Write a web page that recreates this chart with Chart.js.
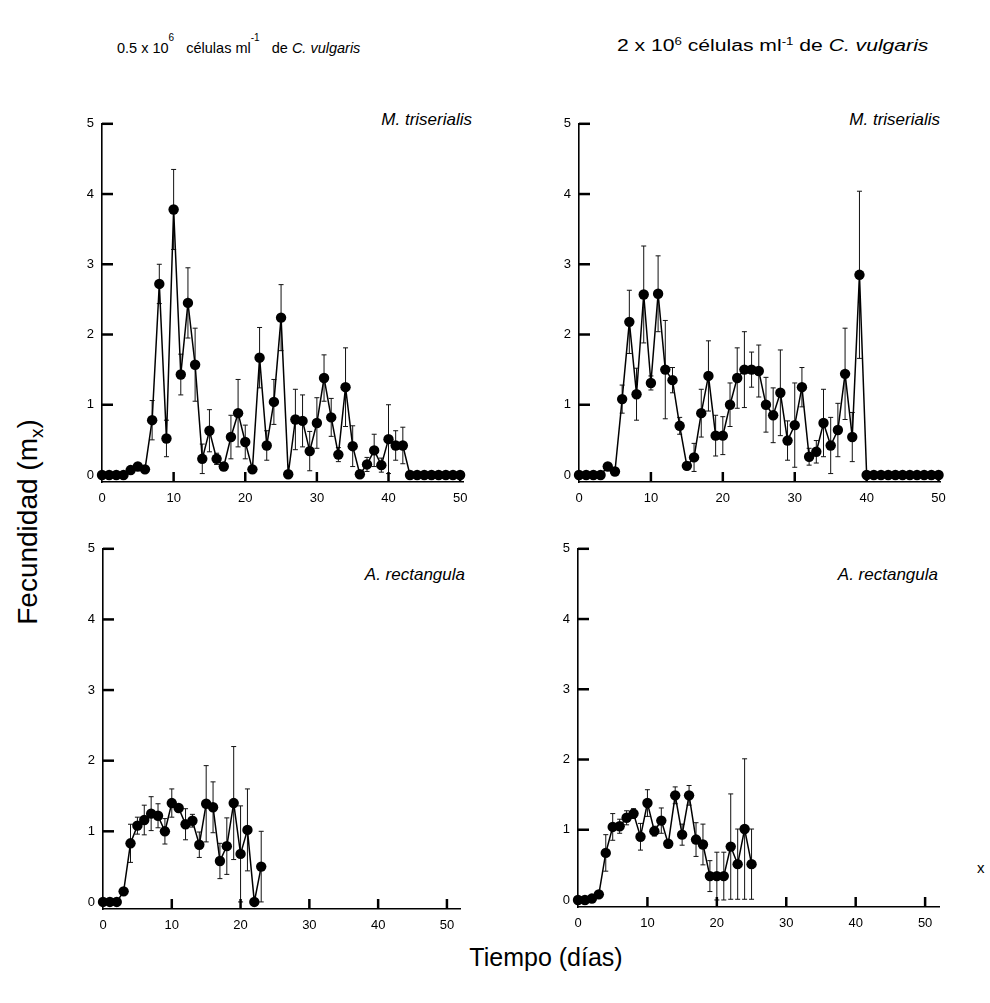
<!DOCTYPE html>
<html>
<head>
<meta charset="utf-8">
<script src="https://cdn.jsdelivr.net/npm/chart.js@4.4.1/dist/chart.umd.min.js"></script>
<style>
  body { margin:0; background:#fff; width:990px; height:1003px; position:relative; overflow:hidden;
         font-family:'Liberation Sans', Arial, sans-serif; color:#000; }
  canvas { position:absolute; }
  .txt { position:absolute; white-space:nowrap; line-height:1; }
  .head { font-size:14.5px; top:39px; }
  .head sup { font-size:10px; }
  .hi { position:relative; top:-6px; }
  .wide { font-size:16px; top:37px; transform:scaleX(1.32); transform-origin:left center; }
  .sp { font-size:17px; font-style:italic; text-align:right; }
</style>
</head>
<body>

<div class="txt head" style="left:117px;">0.5 x 10<sup class="hi">6</sup>&nbsp;&nbsp; células ml<sup class="hi">-1</sup>&nbsp;&nbsp; de <i>C. vulgaris</i></div>
<div class="txt head wide" style="left:617px;">2 x 10<sup>6</sup> células ml<sup>-1</sup> de <i>C. vulgaris</i></div>

<div class="txt sp" style="right:518px; top:111px;">M. triserialis</div>
<div class="txt sp" style="right:50px; top:111px;">M. triserialis</div>
<div class="txt sp" style="right:525px; top:566px;">A. rectangula</div>
<div class="txt sp" style="right:52px; top:566px;">A. rectangula</div>

<div class="txt" style="left:30px; top:522px; font-size:28px; transform:translate(-50%,-50%) rotate(-90deg);">Fecundidad (m<sub style="font-size:19px;">x</sub>)</div>
<div class="txt" style="left:546px; top:957px; font-size:25px; transform:translate(-50%,-50%);">Tiempo (días)</div>
<div class="txt" style="left:977px; top:860px; font-size:15px;">x</div>

<canvas id="p1"></canvas>
<canvas id="p2"></canvas>
<canvas id="p3"></canvas>
<canvas id="p4"></canvas>

<script>
//*** DATA ***//
const daysMt = [0,1,2,3,4,5,6,7,8,9,10,11,12,13,14,15,16,17,18,19,20,21,22,23,24,25,
                26,27,28,29,30,31,32,33,34,35,36,37,38,39,40,41,42,43,44,45,46,47,48,49,50];
const daysArLow = [0,1,2,3,4,5,6,7,8,9,10,11,12,13,14,15,16,17,18,19,20,21,22,23];
const daysArHigh = [0,1,2,3,4,5,6,7,8,9,10,11,12,13,14,15,16,17,18,19,20,21,22,23,24,25];

const yTicks = [0, 1, 2, 3, 4, 5];
const xTicks = [0, 10, 20, 30, 40, 50];

// M. triserialis, 0.5 x 10^6 cells/ml
const mtLow = [0,0,0,0,0.07,0.12,0.08,0.78,2.72,0.52,3.78,1.43,2.45,1.57,0.23,0.63,0.23,0.12,0.54,0.88,
               0.47,0.08,1.67,0.42,1.04,2.24,0.01,0.79,0.77,0.34,0.74,1.38,0.82,0.29,1.25,0.41,0.01,0.15,
               0.35,0.14,0.51,0.42,0.42,0,0,0,0,0,0,0,0];
const mtLowErr = [0,0,0,0,0,0,0,0.28,0.28,0.26,0.57,0.29,0.5,0.52,0.21,0.3,0.08,0.05,0.31,0.48,
                  0.24,0,0.43,0.21,0.32,0.47,0,0.43,0.37,0.28,0.36,0.33,0.27,0.1,0.56,0.29,0,0.1,
                  0.23,0.1,0.49,0.21,0.26,0,0,0,0,0,0,0,0];

// M. triserialis, 2 x 10^6 cells/ml
const mtHigh = [0,0,0,0,0.12,0.05,1.08,2.18,1.15,2.57,1.31,2.58,1.5,1.35,0.7,0.13,0.25,0.88,1.41,0.56,
                0.56,1.0,1.38,1.5,1.5,1.48,1.0,0.85,1.17,0.49,0.71,1.25,0.26,0.33,0.74,0.42,0.64,1.44,
                0.54,2.85,0,0,0,0,0,0,0,0,0,0,0];
const mtHighErr = [0,0,0,0,0,0,0.2,0.45,0.37,0.69,0.1,0.54,0.7,0.18,0.12,0.05,0.2,0.34,0.5,0.29,
                   0.27,0.31,0.43,0.54,0.25,0.37,0.39,0.39,0.61,0.28,0.6,0.28,0.12,0.16,0.48,0.4,0.38,0.65,
                   0.35,1.19,0,0,0,0,0,0,0,0,0,0,0];

// A. rectangula, 0.5 x 10^6 cells/ml
const arLow = [0,0,0,0.15,0.83,1.08,1.16,1.25,1.22,1.0,1.4,1.33,1.1,1.15,0.81,1.39,1.34,0.58,0.79,1.4,
               0.68,1.02,0,0.5];
const arLowErr = [0,0,0,0.03,0.27,0.12,0.21,0.24,0.17,0.18,0.2,0.05,0.22,0.09,0.18,0.54,0.36,0.25,0.4,0.8,
                  0.68,0.58,0.03,0.5];

// A. rectangula, 2 x 10^6 cells/ml
const arHigh = [0,0,0.02,0.08,0.67,1.04,1.05,1.17,1.23,0.9,1.38,0.98,1.13,0.8,1.49,0.93,1.49,0.86,0.79,
                0.34,0.34,0.34,0.76,0.51,1.01,0.51];
const arHighErr = [0,0,0,0.03,0.26,0.19,0.1,0.1,0.07,0.19,0.19,0.07,0.18,0.03,0.12,0.15,0.14,0.24,0.29,
                   0.22,0.34,0.34,0.75,0.5,1.0,0.5];


//*** PLUGIN ***//
// error bars and inward tick marks, drawn before the line and markers
const panelMarks = {
    id: 'panelMarks',
    beforeDatasetsDraw(chart) {
        const ctx = chart.ctx;
        const area = chart.chartArea;
        const xs = chart.scales.x;
        const ys = chart.scales.y;

        ctx.save();
        ctx.strokeStyle = '#111';
        ctx.lineWidth = 1;
        chart.data.datasets.forEach((ds, di) => {
            const meta = chart.getDatasetMeta(di);
            meta.data.forEach((pt, i) => {
                const e = ds.errors[i];
                if (!e) return;
                const v = ds.data[i].y;
                const top = ys.getPixelForValue(v + e);
                const bot = ys.getPixelForValue(Math.max(v - e, 0));
                ctx.beginPath();
                ctx.moveTo(pt.x, top); ctx.lineTo(pt.x, bot);
                ctx.moveTo(pt.x - 2.5, top); ctx.lineTo(pt.x + 2.5, top);
                ctx.moveTo(pt.x - 2.5, bot); ctx.lineTo(pt.x + 2.5, bot);
                ctx.stroke();
            });
        });

        ctx.strokeStyle = '#000';
        ctx.lineWidth = 2.5;
        for (let k = 1; k < yTicks.length; k++) {
            const py = ys.getPixelForValue(yTicks[k]);
            ctx.beginPath();
            ctx.moveTo(area.left, py);
            ctx.lineTo(area.left + 11, py);
            ctx.stroke();
        }
        for (let k = 1; k < xTicks.length; k++) {
            const px = xs.getPixelForValue(xTicks[k]);
            ctx.beginPath();
            ctx.moveTo(px, area.bottom);
            ctx.lineTo(px, area.bottom - 10);
            ctx.stroke();
        }
        ctx.restore();
    }
};


//*** FUNCTIONS ***//
const PAD_L = 40, PAD_T = 12, PAD_R = 20, PAD_B = 34;

const initPanel = (id, days, values, errors, box, xMax) => {
    const [left, top, right, bottom] = box;
    const elem = document.getElementById(id);
    elem.width = right - left + PAD_L + PAD_R;
    elem.height = bottom - top + PAD_T + PAD_B;
    elem.style.left = (left - PAD_L) + 'px';
    elem.style.top = (top - PAD_T) + 'px';

    const tickFont = { family: "'Liberation Sans', Arial, sans-serif", size: 13 };

    return new Chart(elem, {
        type: 'line',
        data: {
            datasets: [{
                data: days.map((d, i) => ({ x: d, y: values[i] })),
                errors,
                borderColor: '#000',
                borderWidth: 1.5,
                backgroundColor: '#000',
                pointRadius: 5.2,
                pointBackgroundColor: '#000',
                pointBorderWidth: 0,
                tension: 0,
                clip: false
            }]
        },
        options: {
            responsive: false,
            animation: false,
            events: [],
            layout: { padding: { left: 0, top: PAD_T, right: PAD_R, bottom: 0 } },
            plugins: { legend: { display: false }, tooltip: { enabled: false } },
            scales: {
                x: {
                    type: 'linear',
                    min: 0,
                    max: xMax,
                    afterFit: s => { s.height = PAD_B; },
                    afterBuildTicks: s => { s.ticks = xTicks.map(v => ({ value: v })); },
                    grid: { display: false, drawTicks: false },
                    border: { display: true, color: '#000', width: 1.6 },
                    ticks: { color: '#000', font: tickFont, padding: 9, autoSkip: false, maxRotation: 0 }
                },
                y: {
                    min: -0.1,
                    max: 5,
                    afterFit: s => { s.width = PAD_L; },
                    afterBuildTicks: s => { s.ticks = yTicks.map(v => ({ value: v })); },
                    grid: { display: false, drawTicks: false },
                    border: { display: true, color: '#000', width: 1.6 },
                    ticks: { color: '#000', font: tickFont, padding: 8 }
                }
            }
        },
        plugins: [panelMarks]
    });
}


//*** CHARTS ***//
initPanel('p1', daysMt, mtLow, mtLowErr, [102, 120, 463, 482], 50.4);
initPanel('p2', daysMt, mtHigh, mtHighErr, [579, 120, 940, 482], 50.2);
initPanel('p3', daysArLow, arLow, arLowErr, [103, 545, 460, 909], 51.9);
initPanel('p4', daysArHigh, arHigh, arHighErr, [578, 545, 939, 907], 52);
</script>
</body>
</html>
